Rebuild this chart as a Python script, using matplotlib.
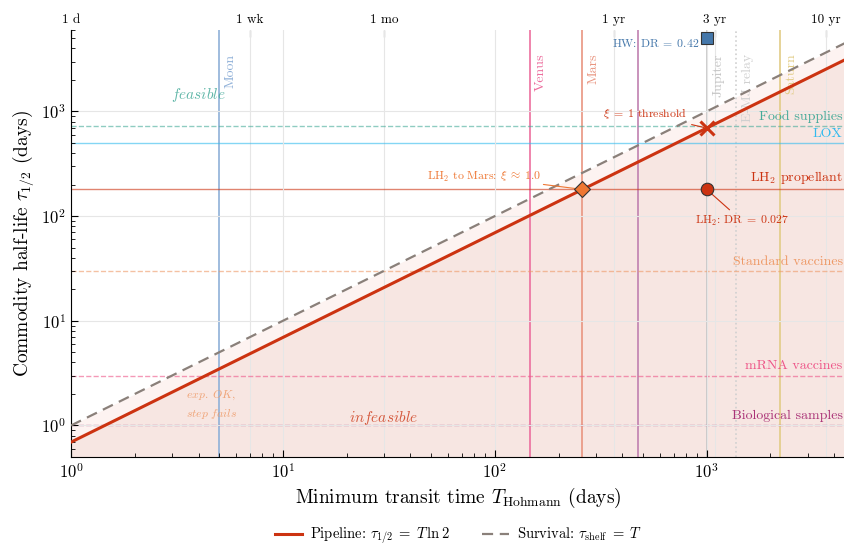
import numpy as np
import matplotlib
matplotlib.use('Agg')
from matplotlib import pyplot as plt
import matplotlib.transforms as mtransforms

plt.rcParams['font.family'] = 'serif'
plt.rcParams['font.serif'] = ['cmr10']
plt.rcParams['mathtext.fontset'] = 'cm'
plt.rcParams['axes.formatter.use_mathtext'] = True
plt.rcParams['axes.unicode_minus'] = False
# --

T_MIN, T_MAX = 1.0, 4500.0
Y_MIN, Y_MAX = 0.5, 6000.0

# destinations: Hohmann transit time (days)
dest_names = ['Moon', 'Venus', 'Mars', '', 'Jupiter', 'E-MJ relay', 'Saturn']
dest_T = [5.0, 146.0, 259.0, 472.0, 1000.0, 1380.0, 2210.0]
dest_colors = ['#8fb0d8', '#ec6f9e', '#e99580', '#c080b0', '#c4c4c4', '#d0d0d0', '#e2cc86']
dest_styles = ['-', '-', '-', '-', '-', ':', '-']

# commodities: half-life (days)
comm_names = ['Food supplies', 'LOX', r'LH$_2$ propellant', 'Standard vaccines',
              'mRNA vaccines', 'Biological samples']
comm_tau = [730.0, 500.0, 180.0, 30.0, 3.0, 1.0]
comm_colors = ['#44AA99', '#33BBEE', '#CC3311', '#EE9966', '#EE5588', '#AA3377']
comm_styles = ['--', '-', '-', '--', '--', '--']

# top axis: human time scales
top_ticks = [1, 7, 30, 365, 1095, 3650]
top_labels = ['1 d', '1 wk', '1 mo', '1 yr', '3 yr', '10 yr']

# marked points
mars_pt = (259.0, 180.0)
thresh_pt = (1000.0, 1000.0 * np.log(2))
lh2_pt = (1000.0, 180.0)
hw_pt = (1000.0, 5000.0)
# --

T = np.geomspace(T_MIN, T_MAX, 200)
tau_pipe = T * np.log(2)
tau_surv = T

fig = plt.figure(figsize=(8.45, 5.44), dpi=100)
ax = fig.add_axes([71/845, 1 - 457/544, 1 - 71/845, (457 - 30)/544])
ax.set_xscale('log')
ax.set_yscale('log')
ax.set_xlim(T_MIN, T_MAX)
ax.set_ylim(Y_MIN, Y_MAX)

ax.fill_between(T, Y_MIN, tau_pipe, color='#f7e6e2', lw=0, zorder=0)
ax.fill_between(T, tau_pipe, tau_surv, color='#fdf3f1', lw=0, zorder=0)

ax.grid(True, which='major', color='#e6e6e6', lw=0.8, zorder=0.5)
for t in top_ticks:
  ax.axvline(t, color='#e6e6e6', lw=0.8, zorder=0.5)

trans = mtransforms.blended_transform_factory(ax.transData, ax.transAxes)
for name, t, c, ls in zip(dest_names, dest_T, dest_colors, dest_styles):
  ax.axvline(t, color=c, ls=ls, lw=1.2, zorder=1)
  if name:
    ax.text(t * 1.06, 0.945, name, rotation=90, ha='left', va='top', color=c,
            fontsize=10, transform=trans)

for name, tau, c, ls in zip(comm_names, comm_tau, comm_colors, comm_styles):
  ax.axhline(tau, color=c, ls=ls, lw=1.0, alpha=0.6, zorder=1)
  ax.text(0.997, tau * 1.07, name, ha='right', va='bottom', color=c, fontsize=10,
          transform=mtransforms.blended_transform_factory(ax.transAxes, ax.transData))

ax.plot(T, tau_pipe, color='#CC3311', lw=2.2, zorder=3,
        label=r'Pipeline: $\tau_{1/2}\;=\;T\,\ln 2$')
ax.plot(T, tau_surv, color='#8a807a', lw=1.6, ls=(0, (5, 3)), zorder=3,
        label=r'Survival: $\tau_{\rm shelf}\;=\;T$')

ax.plot(*mars_pt, marker='D', ms=8, color='#EE7733', mec='#333333', mew=0.8, zorder=5)
ax.plot(*thresh_pt, marker='x', ms=10, mew=2.2, color='#CC3311', zorder=5)
ax.plot(*lh2_pt, marker='o', ms=9, color='#CC3311', mec='#333333', mew=0.8, zorder=5)
ax.plot(*hw_pt, marker='s', ms=8, color='#4477AA', mec='#333333', mew=0.8, zorder=5,
        clip_on=False)

ax.annotate(r'LH$_2$ to Mars: $\xi\;\approx\;1.0$', xy=mars_pt, xytext=(-30, 4),
            textcoords='offset points', ha='right', va='bottom', fontsize=8.5,
            color='#EE7733', arrowprops=dict(arrowstyle='-', color='#EE7733', lw=0.8,
                                             shrinkA=0))
ax.annotate(r'$\xi\;=\;1$ threshold', xy=thresh_pt, xytext=(-14, 5),
            textcoords='offset points', ha='right', va='bottom', fontsize=8.5,
            color='#CC3311', arrowprops=dict(arrowstyle='-', color='#CC3311', lw=0.8))
ax.annotate(r'LH$_2$: DR$\;=\;0.027$', xy=lh2_pt, xytext=(-8, -18),
            textcoords='offset points', ha='left', va='top', fontsize=8.5,
            color='#CC3311', arrowprops=dict(arrowstyle='-', color='#CC3311', lw=0.8))
ax.text(hw_pt[0] * 0.92, hw_pt[1] * 0.9, r'HW: DR$\;=\;0.42$', ha='right', va='center',
        fontsize=8.5, color='#4477AA')

ax.text(4.0, 1450, r'$\mathit{feasible}$', color='#44AA99', fontsize=11,
        ha='center', va='center', alpha=0.85)
ax.text(30, 1.19, r'$\mathit{infeasible}$', color='#CC3311', fontsize=11,
        ha='center', va='center', alpha=0.8)
ax.text(3.5, 1.93, r'$\mathit{exp.\ OK,}$', color='#EE9966', fontsize=8.5,
        ha='left', va='center', alpha=0.85)
ax.text(3.5, 1.30, r'$\mathit{step\ fails}$', color='#EE9966', fontsize=8.5,
        ha='left', va='center', alpha=0.85)

ax.tick_params(which='both', direction='in', labelsize=12)
ax.tick_params(which='major', length=5)
ax.tick_params(which='minor', length=3)
for s in ['top', 'right']:
  ax.spines[s].set_visible(False)

top = ax.secondary_xaxis('top')
top.set_xticks(top_ticks)
top.set_xticklabels(top_labels)
top.minorticks_off()
top.tick_params(direction='in', length=5, labelsize=9.5, pad=3)
top.spines['top'].set_visible(False)

ax.set_xlabel(r'Minimum transit time $T_{\rm Hohmann}$ (days)', fontsize=14)
ax.set_ylabel(r'Commodity half-life $\tau_{1/2}$ (days)', fontsize=14)

ax.legend(loc='upper center', bbox_to_anchor=(0.5, -0.13), ncol=2, frameon=False,
          fontsize=10.5, handlelength=1.9, handletextpad=0.5, columnspacing=2.2)

plt.savefig('out.png', dpi=100)
plt.close('all')
